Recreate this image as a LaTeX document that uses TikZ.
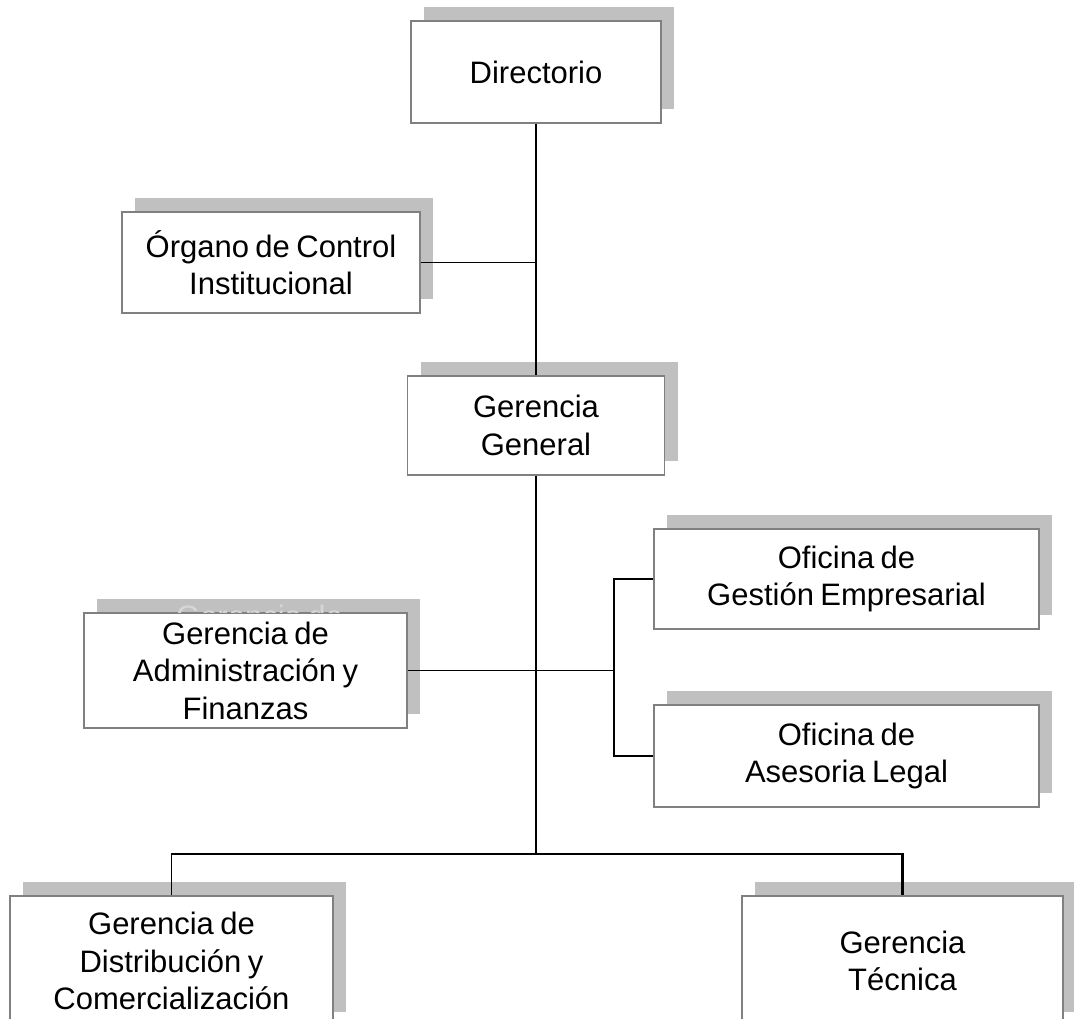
\documentclass[tikz,border=0pt]{standalone}
\usepackage{fontspec}
\setmainfont[WordSpace=0.75]{Liberation Sans}
\usetikzlibrary{shadows}
\definecolor{shadowgray}{HTML}{C0C0C0}
\definecolor{boxborder}{HTML}{808080}
\definecolor{ghosttext}{HTML}{D6D6D6}
\tikzset{
  orgbox/.style={draw=boxborder, line width=1.3pt, fill=white, align=center,
    inner sep=0pt, font=\fontsize{31}{37.5}\selectfont,
    general shadow={fill=shadowgray, shadow xshift=13pt, shadow yshift=14pt}},
  conn/.style={line width=1.6pt, black},
  connthick/.style={line width=2.4pt, black},
}
\begin{document}
\begin{tikzpicture}[x=1pt,y=-1pt]
\useasboundingbox (0,0) rectangle (1074,1019);
\clip (0,0) rectangle (1074,1019);

\node[orgbox, minimum width=250pt, minimum height=102pt] (dir) at (536,72) {Directorio};
\node[orgbox, minimum width=298pt, minimum height=101pt] (oci) at (271,262.5) {Órgano de Control\\Institucional};
\node[orgbox, minimum width=257pt, minimum height=99pt] (gg) at (536,425.5) {Gerencia\\General};
\node[orgbox, minimum width=323pt, minimum height=115pt] (gaf) at (245.5,670.5) {Gerencia de\\Administración y\\Finanzas};
\node[orgbox, minimum width=385pt, minimum height=100pt] (oge) at (846.5,579) {Oficina de\\Gestión Empresarial};
\node[orgbox, minimum width=385pt, minimum height=102pt] (oal) at (846.5,756) {Oficina de\\Asesoria Legal};
\node[orgbox, minimum width=323pt, minimum height=130pt] (gdc) at (171.5,961) {Gerencia de\\Distribución y\\Comercialización};
\node[orgbox, minimum width=321pt, minimum height=130pt] (gt) at (902.5,961) {Gerencia\\Técnica};

% faint text left in the shadow of the administration box
\begin{scope}
  \clip (96,597) rectangle (421,612.3);
  \node[inner sep=0pt, font=\fontsize{31}{37.5}\selectfont, text=ghosttext] (gafghost) at (259.5,616) {Gerencia de};
\end{scope}

\coordinate (brk) at (614,670.5);
\coordinate (bot) at (536,854);

\draw[conn] (dir.south) -- (gg.north);
\draw[conn] (oci.east) -- (oci.east -| dir.south);
\draw[conn] (gg.south) -- (bot);
\draw[conn] (gaf.east) -- (brk);
\draw[conn] (oge.west) -| (brk) |- (oal.west);
\draw[conn] (gdc.north) |- (bot);
\draw[connthick] (bot) -| (gt.north);
\end{tikzpicture}
\end{document}
